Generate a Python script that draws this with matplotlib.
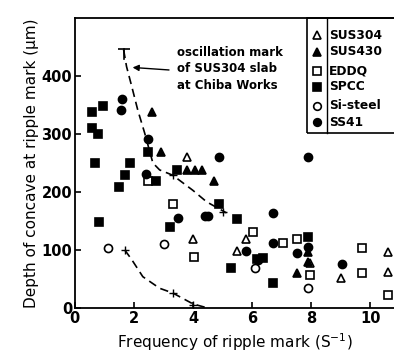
"""ripple mark depth vs frequency"""
import matplotlib
matplotlib.use('Agg')
import matplotlib.pyplot as plt

plt.rcParams['font.family'] = ['DejaVu Sans']

# values: (frequency S^-1, depth um)
sus304_x = [3.78, 4.0, 5.5, 5.8, 7.95, 9.0, 10.6, 10.6]
sus304_y = [261, 119, 98, 119, 77, 52, 97, 62]
sus430_x = [2.6, 2.9, 3.8, 4.05, 4.3, 4.7, 7.53, 7.9, 7.9]
sus430_y = [338, 269, 238, 238, 238, 219, 60, 97, 80]
eddq_x = [2.47, 3.31, 4.02, 6.02, 7.03, 7.53, 7.95, 9.73, 9.73, 10.6]
eddq_y = [219, 179, 88, 131, 112, 119, 57, 103, 60, 23]
spcc_x = [0.57, 0.95, 0.57, 0.78, 2.47, 0.68, 1.86, 1.69, 1.49, 2.74,
          3.45, 4.87, 3.21, 5.5, 0.81, 5.3, 6.15, 6.35, 6.72, 7.9]
spcc_y = [338, 348, 310, 300, 269, 250, 250, 229, 209, 219,
          238, 179, 140, 153, 148, 69, 84, 86, 43, 122]
sisteel_x = [1.11, 3.0, 6.1, 7.9]
sisteel_y = [103, 110, 69, 35]
ss41_x = [1.6, 1.55, 2.47, 4.87, 7.9, 2.4, 3.48, 4.39, 4.49, 6.72,
          5.8, 6.72, 7.53, 7.9, 9.05, 6.2]
ss41_y = [360, 341, 291, 261, 261, 231, 155, 159, 159, 164,
          98, 112, 95, 105, 76, 82]

# dashed guide curves (oscillation mark of SUS304 slab)
upper_x = [1.65, 1.75, 1.93, 2.13, 2.36, 2.64, 2.87, 3.31, 3.99, 4.46, 5.13]
upper_y = [445, 416, 381, 341, 302, 250, 238, 229, 203, 183, 164]
lower_x = [1.69, 1.93, 2.3, 2.87, 3.31, 4.0, 4.5]
lower_y = [100, 83, 54, 34, 26, 7, 0]
cross_x = [3.31, 5.0, 1.69, 3.31, 4.0]
cross_y = [229, 166, 100, 26, 5]

series = [
    ('SUS304', sus304_x, sus304_y, '^', 'white'),
    ('SUS430', sus430_x, sus430_y, '^', 'black'),
    ('EDDQ', eddq_x, eddq_y, 's', 'white'),
    ('SPCC', spcc_x, spcc_y, 's', 'black'),
    ('Si-steel', sisteel_x, sisteel_y, 'o', 'white'),
    ('SS41', ss41_x, ss41_y, 'o', 'black'),
]

fig = plt.figure(figsize=(3.94, 3.59), dpi=100)
ax = fig.add_axes([0.19, 0.142, 0.81, 0.808])

ax.plot(upper_x, upper_y, 'k--', lw=1.2, dashes=(5, 3))
ax.plot(lower_x, lower_y, 'k--', lw=1.2, dashes=(5, 3))
ax.plot(cross_x, cross_y, 'k+', ms=6, mew=1.0)
ax.plot([1.65], [447], 'k_', ms=8, mew=1.2)
ax.plot([1.65, 1.65], [447, 430], 'k-', lw=1.2)

for name, xs, ys, m, fc in series:
    ax.plot(xs, ys, ls='none', marker=m, ms=5.8, mfc=fc, mec='black',
            mew=1.2, clip_on=False)

ax.annotate('', xy=(1.86, 415), xytext=(3.28, 410),
            arrowprops=dict(arrowstyle='-|>', color='black', lw=1.0,
                            mutation_scale=9))
ax.text(3.45, 452, 'oscillation mark\nof SUS304 slab\nat Chiba Works',
        fontsize=8.5, fontweight='bold', va='top', ha='left',
        linespacing=1.35)

# legend box drawn by hand
ax.add_patch(plt.Rectangle((0.727, 0.603), 0.3, 0.397, transform=ax.transAxes,
                           fill=False, ec='black', lw=1.2, clip_on=False))
ax.plot([0.79, 0.79], [0.603, 1.0], 'k-', lw=1.0, transform=ax.transAxes)
rows = [0.941, 0.883, 0.817, 0.762, 0.697, 0.641]
for (name, xs, ys, m, fc), ry in zip(series, rows):
    ax.plot([0.759], [ry], marker=m, ms=5.5, mfc=fc, mec='black', mew=1.2,
            transform=ax.transAxes)
    ax.text(0.797, ry, name, transform=ax.transAxes, fontsize=8.8,
            fontweight='bold', va='center', ha='left')

ax.set_xlim(0, 10.8)
ax.set_ylim(0, 500)
ax.set_xticks([0, 2, 4, 6, 8, 10])
ax.set_yticks([0, 100, 200, 300, 400])
ax.tick_params(direction='in', length=4, width=1.2, labelsize=10.5, pad=2)
for lab in ax.get_xticklabels() + ax.get_yticklabels():
    lab.set_fontweight('bold')
ax.spines['right'].set_visible(False)
for s in ['left', 'bottom', 'top']:
    ax.spines[s].set_linewidth(1.3)

ax.set_xlabel('Frequency of ripple mark (S$^{-1}$)', fontsize=11, labelpad=4)
ax.set_ylabel('Depth of concave at ripple mark (μm)', fontsize=11, labelpad=2)

fig.savefig('out.png', dpi=100)
